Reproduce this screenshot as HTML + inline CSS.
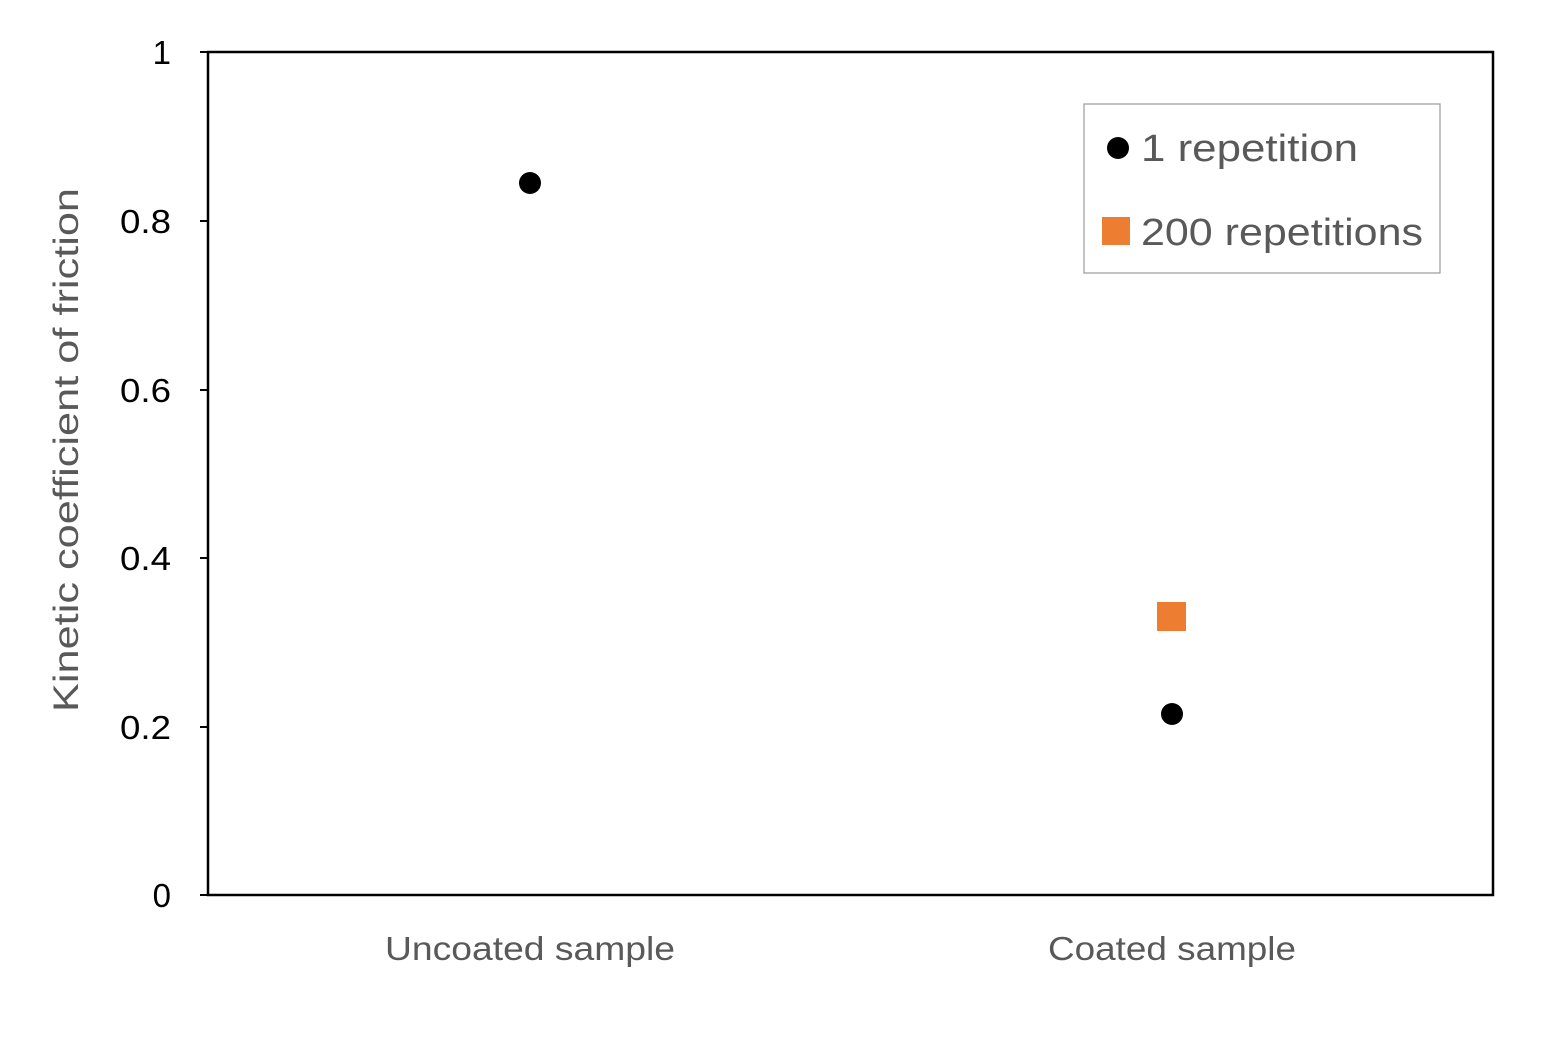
<!DOCTYPE html>
<html><head><style>body{margin:0;background:#fff}</style></head><body>
<svg width="1559" height="1039" xmlns="http://www.w3.org/2000/svg" font-family="'Liberation Sans', sans-serif">
<rect x="0" y="0" width="1559" height="1039" fill="#fff"/>
<rect x="208" y="52" width="1285" height="843" fill="none" stroke="#000" stroke-width="2.5"/>
<g stroke="#000" stroke-width="2">
<line x1="200" y1="52" x2="208" y2="52"/><line x1="200" y1="221" x2="208" y2="221"/>
<line x1="200" y1="390" x2="208" y2="390"/><line x1="200" y1="558" x2="208" y2="558"/>
<line x1="200" y1="727" x2="208" y2="727"/><line x1="200" y1="895" x2="208" y2="895"/>
</g>
<g font-size="33" text-anchor="end" fill="#000">
<text x="171" y="64">1</text>
<text x="171" y="233" textLength="51" lengthAdjust="spacingAndGlyphs">0.8</text>
<text x="171" y="402" textLength="51" lengthAdjust="spacingAndGlyphs">0.6</text>
<text x="171" y="570" textLength="51" lengthAdjust="spacingAndGlyphs">0.4</text>
<text x="171" y="739" textLength="51" lengthAdjust="spacingAndGlyphs">0.2</text>
<text x="171" y="907">0</text>
</g>
<g font-size="33" fill="#595959">
<text x="385" y="960" textLength="290" lengthAdjust="spacingAndGlyphs">Uncoated sample</text>
<text x="1048" y="960" textLength="248" lengthAdjust="spacingAndGlyphs">Coated sample</text>
<text transform="translate(78,712) rotate(-90)" font-size="35" textLength="524" lengthAdjust="spacingAndGlyphs">Kinetic coefficient of friction</text>
</g>
<circle cx="530" cy="183" r="11" fill="#000"/>
<circle cx="1172" cy="714" r="11" fill="#000"/>
<rect x="1157" y="602" width="29" height="29" fill="#ED7D31"/>
<rect x="1084" y="104" width="356" height="169" fill="#fff" stroke="#999" stroke-width="1.2"/>
<circle cx="1118" cy="148" r="11" fill="#000"/>
<rect x="1102" y="217" width="28" height="28" fill="#ED7D31"/>
<g font-size="38" fill="#595959">
<text x="1141" y="161" textLength="217" lengthAdjust="spacingAndGlyphs">1 repetition</text>
<text x="1141" y="245" textLength="282" lengthAdjust="spacingAndGlyphs">200 repetitions</text>
</g>
</svg>
</body></html>
